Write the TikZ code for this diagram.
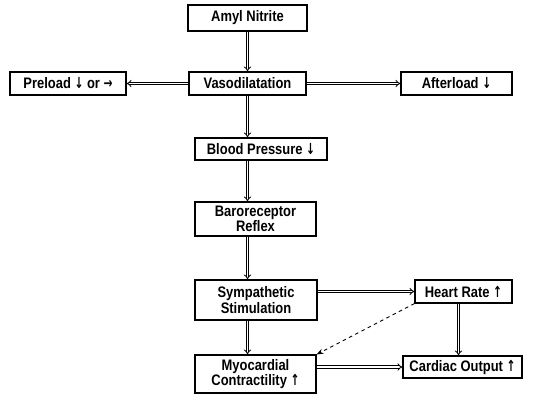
\documentclass[tikz,border=0pt]{standalone}
\usepackage{fontspec}
\newfontfamily\boxfont[FakeStretch=0.85]{Liberation Sans}
\newfontfamily\arrowfont[FakeStretch=0.7]{DejaVu Sans}
\newcommand{\dn}{{\arrowfont ↓}}
\newcommand{\up}{{\arrowfont ↑}}
\newcommand{\rt}{{\arrowfont →}}
\usetikzlibrary{arrows.meta}

\begin{document}
\begin{tikzpicture}[x=0.03cm,y=-0.03cm,
    box/.style={draw, line width=0.9pt, inner sep=1pt, align=center,
      font=\boxfont\bfseries\fontsize{13}{12}\selectfont},
    flow/.style={double, double distance=1.4pt, line width=0.7pt, -{Implies}},
    hint/.style={dashed, line width=0.8pt, -{Stealth[length=6pt]}}]

  % frame of the page
  \useasboundingbox (0,0) rectangle (539,395);

  % Top row
  \node[box, minimum width=3.57cm, minimum height=0.78cm] (amyl) at (247.5,18) {Amyl Nitrite};
  \node[box, minimum width=3.51cm, minimum height=0.69cm] (vaso) at (247.5,83.5) {Vasodilatation};
  \node[box, minimum width=3.48cm, minimum height=0.69cm] (pre) at (68,83.5) {Preload \dn{} or \rt};
  \node[box, minimum width=3.33cm, minimum height=0.69cm] (after) at (456.5,83.5) {Afterload \dn};

  % Middle column
  \node[box, minimum width=3.96cm, minimum height=0.66cm] (bp) at (261,149) {Blood Pressure \dn};
  \node[box, minimum width=3.63cm, minimum height=1.02cm] (baro) at (255.5,219) {Baroreceptor\\Reflex};
  \node[box, minimum width=3.66cm, minimum height=1.2cm] (symp) at (256,300) {Sympathetic\\Stimulation};
  \node[box, minimum width=3.63cm, minimum height=1.14cm] (myo) at (255.5,374) {Myocardial\\Contractility \up};

  % Right column
  \node[box, minimum width=2.91cm, minimum height=0.69cm] (hr) at (463.5,291.5) {Heart Rate \up};
  \node[box, minimum width=3.57cm, minimum height=0.66cm] (co) at (462.5,367) {Cardiac Output \up};

  % Arrows
  \draw[flow] (amyl) -- (vaso);
  \draw[flow] (vaso) -- (pre);
  \draw[flow] (vaso) -- (after);
  \draw[flow] (vaso.south) -- (vaso.south |- bp.north);
  \draw[flow] (vaso.south |- bp.south) -- (vaso.south |- baro.north);
  \draw[flow] (vaso.south |- baro.south) -- (vaso.south |- symp.north);
  \draw[flow] (vaso.south |- symp.south) -- (vaso.south |- myo.north);
  \draw[flow] (symp.east |- hr.west) -- (hr.west);
  \draw[flow] (myo.east |- co.west) -- (co.west);
  \coordinate (hrco) at ([xshift=-0.15cm]hr.south);
  \draw[flow] (hrco) -- (hrco |- co.north);
  \draw[hint] (hr.south west) -- (myo.north east);

\end{tikzpicture}
\end{document}
